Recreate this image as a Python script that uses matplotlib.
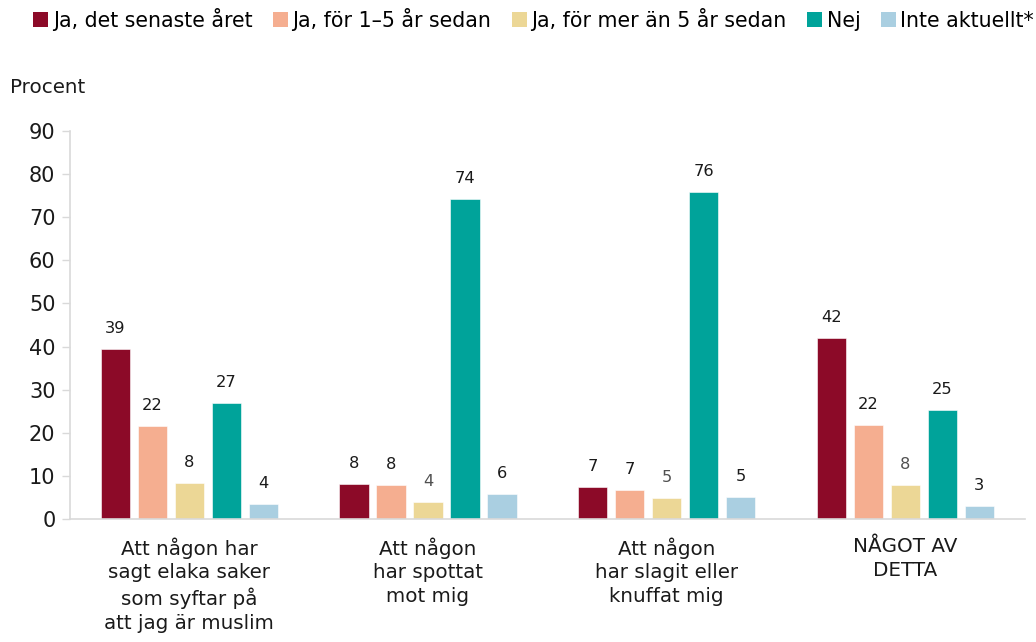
import matplotlib

matplotlib.use("Agg")
import matplotlib.pyplot as plt
import numpy as np
from matplotlib.patches import Patch

plt.rcParams["font.family"] = ["DejaVu Sans"]

categories = [
    "Att någon har\nsagt elaka saker\nsom syftar på\natt jag är muslim",
    "Att någon\nhar spottat\nmot mig",
    "Att någon\nhar slagit eller\nknuffat mig",
    "NÅGOT AV\nDETTA",
]
series_names = [
    "Ja, det senaste året",
    "Ja, för 1–5 år sedan",
    "Ja, för mer än 5 år sedan",
    "Nej",
    "Inte aktuellt*",
]
senaste_aret = [39.4, 8.1, 7.4, 42.0]
ett_fem_ar = [21.6, 7.9, 6.7, 21.8]
over_fem_ar = [8.4, 3.9, 4.9, 7.9]
nej = [26.9, 74.2, 75.8, 25.3]
inte_aktuellt = [3.5, 5.8, 5.1, 3.0]
labels = [
    [39, 8, 7, 42],
    [22, 8, 7, 22],
    [8, 4, 5, 8],
    [27, 74, 76, 25],
    [4, 6, 5, 3],
]
colors = ["#8C0A28", "#F5AE90", "#ECD796", "#00A39A", "#AACFE1"]

values = [senaste_aret, ett_fem_ar, over_fem_ar, nej, inte_aktuellt]

fig = plt.figure(figsize=(10.36, 6.42), dpi=100)
ax = fig.add_axes([0.0676, 0.1916, 0.9214, 0.6044])

x = np.arange(len(categories))
step = 0.155
width = 0.122
for i, (vals, color) in enumerate(zip(values, colors)):
    pos = x + (i - 2) * step
    ax.bar(pos, vals, width=width, color=color, edgecolor="white", linewidth=0.4)
    for j, (p, v) in enumerate(zip(pos, vals)):
        txt_color = "#1a1a1a"
        if i == 2 and j > 0:
            txt_color = "#505050"
        ax.text(p, v + 3.0, str(labels[i][j]), ha="center", va="bottom",
                fontsize=11.7, color=txt_color)

ax.set_xlim(-0.5, 3.5)
ax.set_ylim(0, 90)
ax.set_yticks(range(0, 91, 10))
ax.set_xticks(x)
ax.set_xticklabels(categories, fontsize=14.3, color="#1a1a1a", linespacing=1.32)
ax.tick_params(axis="x", length=0, pad=13)
ax.tick_params(axis="y", labelsize=15, labelcolor="#1a1a1a", color="#d9d9d9",
               length=6, width=1, pad=4.5)
for side in ["top", "right"]:
    ax.spines[side].set_visible(False)
for side in ["left", "bottom"]:
    ax.spines[side].set_color("#d9d9d9")
    ax.spines[side].set_linewidth(1.2)

fig.text(0.01, 0.864, "Procent", fontsize=14.3, color="#1a1a1a", va="center")

handles = [Patch(facecolor=c, edgecolor="none") for c in colors]
fig.legend(handles, series_names, loc="upper left", bbox_to_anchor=(0.018, 1.01),
           ncol=5, frameon=False, fontsize=14.8, handlelength=0.75, handleheight=0.75,
           handletextpad=0.2, columnspacing=1.0, borderaxespad=0.3)

fig.savefig("out.png", dpi=100)
